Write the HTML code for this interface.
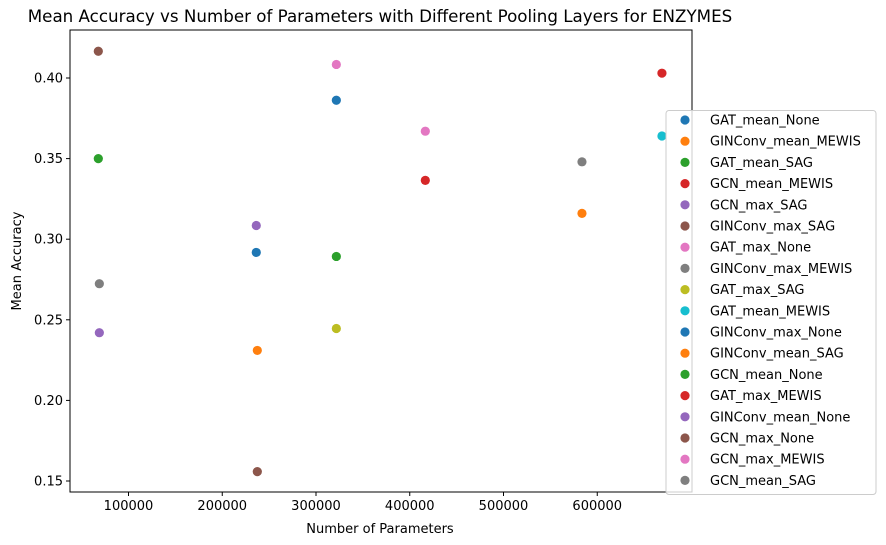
<!DOCTYPE html>
<html><head><meta charset="utf-8"><style>
html,body{margin:0;padding:0;background:#fff;}
svg{display:block;font-family:"DejaVu Sans","Liberation Sans",sans-serif;}
</style></head><body>
<svg id="chart" width="886" height="545" viewBox="0 0 886 545">
<text x="380" y="22" font-size="16.7" text-anchor="middle" fill="#000">Mean Accuracy vs Number of Parameters with Different Pooling Layers for ENZYMES</text>
<g id="axes"></g>
<g id="points"></g>
<g id="legend"></g>
</svg>
<script>
const seriesNames = ["GAT_mean_None","GINConv_mean_MEWIS","GAT_mean_SAG","GCN_mean_MEWIS","GCN_max_SAG","GINConv_max_SAG","GAT_max_None","GINConv_max_MEWIS","GAT_max_SAG","GAT_mean_MEWIS","GINConv_max_None","GINConv_mean_SAG","GCN_mean_None","GAT_max_MEWIS","GINConv_mean_None","GCN_max_None","GCN_max_MEWIS","GCN_mean_SAG"];
const paramCounts = [321700,583700,321700,416600,68900,237400,321700,583700,321700,669000,236300,237400,67800,669000,236300,67800,416600,68900];
const accuracies = [0.3862,0.316,0.2893,0.3365,0.242,0.1558,0.4084,0.348,0.2446,0.364,0.2918,0.231,0.350,0.403,0.3085,0.4166,0.367,0.2724];
const seriesColors = ["#1f77b4","#ff7f0e","#2ca02c","#d62728","#9467bd","#8c564b","#e377c2","#7f7f7f","#bcbd22","#17becf","#1f77b4","#ff7f0e","#2ca02c","#d62728","#9467bd","#8c564b","#e377c2","#7f7f7f"];
const xTicks = [100000,200000,300000,400000,500000,600000];
const yTicks = [0.15,0.20,0.25,0.30,0.35,0.40];

const NS="http://www.w3.org/2000/svg";
const L=70,R=692,T=30,B=492;
function xs(v){return 128.5+(v-100000)/100000*93.75;}
function ys(v){return 481-(v-0.15)/0.05*80.6;}
function mk(tag,attrs,parent,text){const e=document.createElementNS(NS,tag);for(const k in attrs)e.setAttribute(k,attrs[k]);if(text!==undefined)e.textContent=text;parent.appendChild(e);return e;}

const axes=document.getElementById('axes');
const frame=mk('rect',{x:L,y:T,width:R-L,height:B-T,fill:'none',stroke:'#000','stroke-width':1},axes);


xTicks.forEach(t=>{const x=xs(t);
  const l=mk('line',{x1:x,x2:x,y1:B,y2:B+4,stroke:'#000'},axes);
  
  
  const tx=mk('text',{x:x,y:B+18,'font-size':13,'text-anchor':'middle'},axes,String(t));
  
  
});
yTicks.forEach(t=>{const y=ys(t);
  const l=mk('line',{x1:L-4,x2:L,y1:y,y2:y,stroke:'#000'},axes);
  
  
  const tx=mk('text',{x:L-7,y:y+4.5,'font-size':13,'text-anchor':'end'},axes,t.toFixed(2));
  
  
});
const xt=mk('text',{x:380,y:533,'font-size':13,'text-anchor':'middle'},axes,'Number of Parameters');


const yt=mk('text',{x:21,y:261,'font-size':13,'text-anchor':'middle',transform:'rotate(-90 21 261)'},axes,'Mean Accuracy');



const pts=document.getElementById('points');
seriesNames.forEach((n,i)=>{
  const c=mk('circle',{cx:xs(paramCounts[i]),cy:ys(accuracies[i]),r:4.6,fill:seriesColors[i]},pts);
  
  
});

const lg=document.getElementById('legend');
const box=mk('rect',{x:666,y:110.5,width:210,height:384,rx:3,fill:'#fff','fill-opacity':0.8,stroke:'#ccc'},lg);


seriesNames.forEach((n,i)=>{
  const y=120+i*21.2;
  const c=mk('circle',{cx:685,cy:y,r:4.6,fill:seriesColors[i]},lg);
  
  
  const t=mk('text',{x:710,y:y+4.5,'font-size':13},lg,n);
  
  
});
</script>
</body></html>
